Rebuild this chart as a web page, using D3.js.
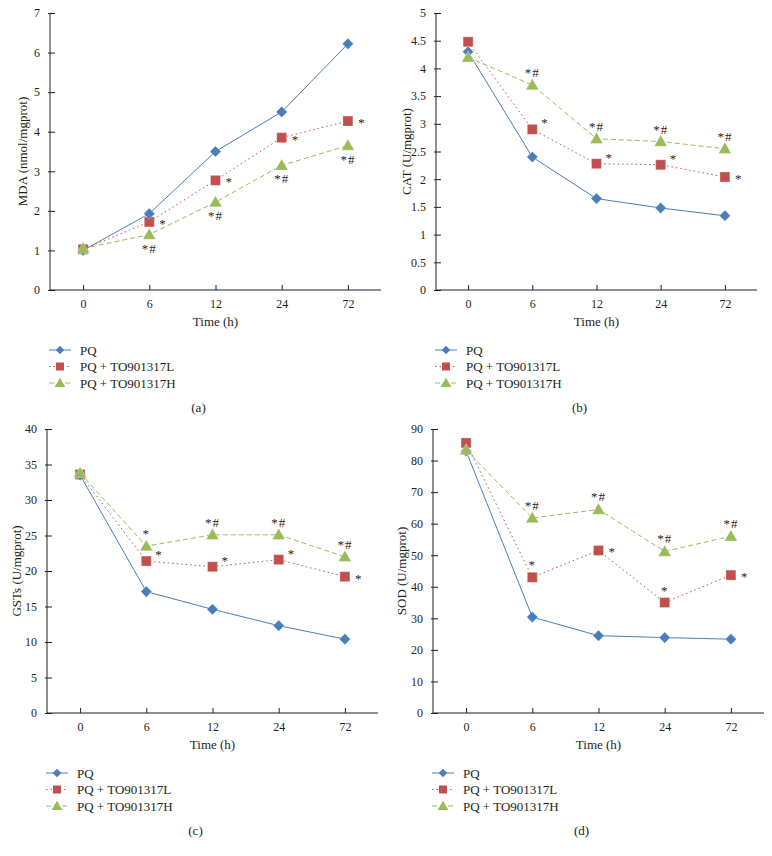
<!DOCTYPE html>
<html>
<head>
<meta charset="utf-8">
<script src="https://cdn.jsdelivr.net/npm/d3@7"></script>
<style>
  html, body { margin: 0; padding: 0; background: #fff; }
  svg text { font-family: "Liberation Serif", "Times New Roman", Times, "DejaVu Serif", serif; fill: #231f20; }
</style>
</head>
<body>
<svg id="chart" width="772" height="856"></svg>
<script>
// ---------- Data ----------
const timeLabels = ["0", "6", "12", "24", "72"];
const seriesNames = ["PQ", "PQ + TO901317L", "PQ + TO901317H"];

const mdaPQ = [1.0, 1.93, 3.5, 4.5, 6.22];
const mdaL  = [1.03, 1.72, 2.77, 3.85, 4.27];
const mdaH  = [1.05, 1.4, 2.22, 3.15, 3.65];

const catPQ = [4.3, 2.4, 1.65, 1.48, 1.34];
const catL  = [4.48, 2.9, 2.28, 2.26, 2.04];
const catH  = [4.2, 3.7, 2.73, 2.68, 2.55];

const gstPQ = [33.5, 17.1, 14.6, 12.3, 10.4];
const gstL  = [33.6, 21.4, 20.6, 21.6, 19.2];
const gstH  = [33.8, 23.5, 25.1, 25.1, 22.0];

const sodPQ = [83.0, 30.4, 24.5, 23.9, 23.4];
const sodL  = [85.6, 43.0, 51.5, 35.0, 43.7];
const sodH  = [83.3, 61.8, 64.5, 51.2, 56.0];

// significance marks: [series index, time index, text, placement]
const mdaMarks = [[1,1,"*","r"],[1,2,"*","r"],[1,3,"*","r"],[1,4,"*","r"],
                  [2,1,"*#","b"],[2,2,"*#","b"],[2,3,"*#","b"],[2,4,"*#","b"]];
const catMarks = [[1,1,"*","tr"],[1,2,"*","tr"],[1,3,"*","tr"],[1,4,"*","r"],
                  [2,1,"*#","t"],[2,2,"*#","t"],[2,3,"*#","t"],[2,4,"*#","t"]];
const gstMarks = [[1,1,"*","tr"],[1,2,"*","tr"],[1,3,"*","tr"],[1,4,"*","r"],
                  [2,1,"*","t"],[2,2,"*#","t"],[2,3,"*#","t"],[2,4,"*#","t"]];
const sodMarks = [[1,1,"*","t"],[1,2,"*","r"],[1,3,"*","t"],[1,4,"*","r"],
                  [2,1,"*#","t"],[2,2,"*#","t"],[2,3,"*#","t"],[2,4,"*#","t"]];

const mdaTicks = ["0","1","2","3","4","5","6","7"];
const catTicks = ["0","0.5","1","1.5","2","2.5","3","3.5","4","4.5","5"];
const gstTicks = ["0","5","10","15","20","25","30","35","40"];
const sodTicks = ["0","10","20","30","40","50","60","70","80","90"];

// ---------- Styles ----------
const colors = ["#4a7ebb", "#c0504d", "#9bbb59"];
const dashes = [null, "1.5,3", "5,3"];
const symbols = [d3.symbolSquare, d3.symbolSquare, d3.symbolTriangle];
const symSizes = [62, 100, 72];
const legSizes = [36, 64, 50];
const symRot = [45, 0, 0];

const panels = [
  {label:"(a)", ylab:"MDA (nmol/mgprot)", series:[mdaPQ,mdaL,mdaH], ticks:mdaTicks, marks:mdaMarks,
   x0:50, x1:381, yTop:13, yBot:290, ylabX:22, capY:407, timeY:321, legY:350},
  {label:"(b)", ylab:"CAT (U/mgprot)", series:[catPQ,catL,catH], ticks:catTicks, marks:catMarks,
   x0:436, x1:757, yTop:13, yBot:290, ylabX:406, capY:407, timeY:321, legY:350},
  {label:"(c)", ylab:"GSTs (U/mgprot)", series:[gstPQ,gstL,gstH], ticks:gstTicks, marks:gstMarks,
   x0:47, x1:378, yTop:429, yBot:713, ylabX:16, capY:830, timeY:744, legY:773},
  {label:"(d)", ylab:"SOD (U/mgprot)", series:[sodPQ,sodL,sodH], ticks:sodTicks, marks:sodMarks,
   x0:433, x1:764, yTop:429, yBot:713, ylabX:401, capY:830, timeY:744, legY:773}
];

const svg = d3.select("#chart");
const FONT = '"Liberation Serif", "Times New Roman", Times, serif';

panels.forEach(p => {
  const g = svg.append("g");
  const tickNums = p.ticks.map(Number);
  const x = d3.scalePoint().domain(timeLabels).range([p.x0, p.x1]).padding(0.5);
  const y = d3.scaleLinear().domain([0, d3.max(tickNums)]).range([p.yBot, p.yTop]);

  // Y axis
  const yAxis = d3.axisLeft(y).tickValues(tickNums).tickSize(-5).tickPadding(10)
    .tickFormat((d, i) => p.ticks[i]);
  const ya = g.append("g").attr("transform", `translate(${p.x0},0)`).call(yAxis)
    .attr("font-family", FONT);
  ya.select(".domain").attr("stroke", "#231f20").attr("d", `M0,${p.yBot}V${p.yTop}`);
  ya.selectAll(".tick line").attr("stroke", "#231f20").attr("x1", -2).attr("x2", 5);
  ya.selectAll(".tick text").attr("font-size", 12).attr("fill", "#231f20");

  // X axis
  const xAxis = d3.axisBottom(x).tickSize(-5).tickPadding(9);
  const xa = g.append("g").attr("transform", `translate(0,${p.yBot})`).call(xAxis)
    .attr("font-family", FONT);
  xa.select(".domain").attr("stroke", "#231f20").attr("d", `M${p.x0},0H${p.x1}`);
  xa.selectAll(".tick line").attr("stroke", "#231f20");
  xa.selectAll(".tick text").attr("font-size", 12).attr("fill", "#231f20");

  // Axis titles
  g.append("text")
    .attr("transform", `translate(${p.ylabX},${(p.yTop + p.yBot) / 2}) rotate(-90)`)
    .attr("text-anchor", "middle").attr("dominant-baseline", "central")
    .attr("font-size", 13).text(p.ylab);
  g.append("text")
    .attr("x", (x(timeLabels[0]) + x(timeLabels[4])) / 2).attr("y", p.timeY)
    .attr("text-anchor", "middle").attr("dominant-baseline", "central")
    .attr("font-size", 13).text("Time (h)");

  // Lines
  const line = d3.line().x((d, i) => x(timeLabels[i])).y(d => y(d));
  p.series.forEach((s, si) => {
    g.append("path").datum(s).attr("d", line)
      .attr("fill", "none").attr("stroke", colors[si]).attr("stroke-width", 1)
      .attr("stroke-dasharray", dashes[si]);
  });
  // Markers
  [1, 0, 2].forEach(si => {
    const s = p.series[si];
    g.selectAll(null).data(s).enter().append("path")
      .attr("d", d3.symbol().type(symbols[si]).size(symSizes[si]))
      .attr("transform", (d, i) => `translate(${x(timeLabels[i])},${y(d) + (si === 2 ? 1 : 0)}) rotate(${symRot[si]})`)
      .attr("fill", colors[si]).attr("stroke", "#ffffff").attr("stroke-width", 0.6).attr("stroke-opacity", 0.5);
  });

  // Significance marks
  p.marks.forEach(([si, ti, txt, pos]) => {
    const cx = x(timeLabels[ti]);
    const cy = y(p.series[si][ti]);
    let tx = cx, ty = cy, anchor = "middle";
    if (pos === "r") { tx = cx + 10; ty = cy + 6; anchor = "start"; }
    else if (pos === "tr") { tx = cx + 9; ty = cy - 2; anchor = "start"; }
    else if (pos === "t") { ty = cy - 8; }
    else if (pos === "b") { ty = cy + 18; }
    g.append("text").attr("x", tx).attr("y", ty).attr("text-anchor", anchor)
      .attr("font-size", 13).attr("letter-spacing", 1).text(txt);
  });

  // Legend
  const lx = p.x0 - 1;
  seriesNames.forEach((nm, si) => {
    const ly = p.legY + si * 16.5;
    g.append("line").attr("x1", lx).attr("x2", lx + 22).attr("y1", ly).attr("y2", ly)
      .attr("stroke", colors[si]).attr("stroke-width", 1).attr("stroke-dasharray", dashes[si]);
    g.append("path").attr("d", d3.symbol().type(symbols[si]).size(legSizes[si]))
      .attr("transform", `translate(${lx + 11},${ly + (si === 2 ? 1 : 0)}) rotate(${symRot[si]})`).attr("fill", colors[si]);
    g.append("text").attr("x", lx + 31).attr("y", ly).attr("dominant-baseline", "central")
      .attr("font-size", 13).text(nm);
  });

  // Caption
  g.append("text").attr("x", (x(timeLabels[0]) + x(timeLabels[4])) / 2 - 17).attr("y", p.capY)
    .attr("text-anchor", "middle").attr("dominant-baseline", "central")
    .attr("font-size", 13).text(p.label);
});
</script>
</body>
</html>
